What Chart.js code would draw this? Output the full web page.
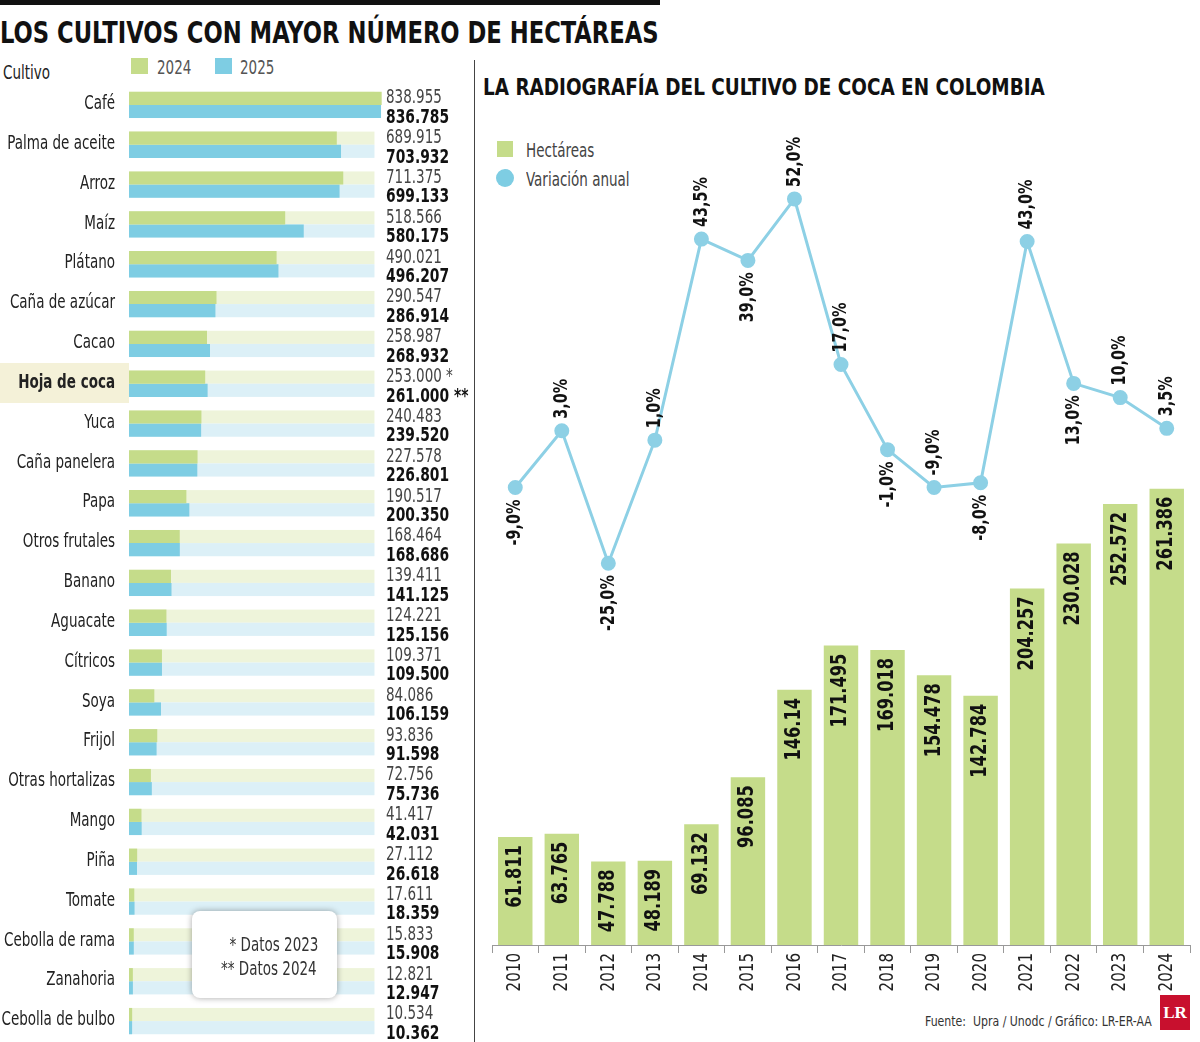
<!DOCTYPE html>
<html><head><meta charset="utf-8">
<script src="https://cdn.jsdelivr.net/npm/chart.js@4/dist/chart.umd.min.js"></script>
<style>
body{margin:0;width:1200px;height:1042px;background:#fff;position:relative;overflow:hidden;font-family:'DejaVu Sans Condensed','DejaVu Sans',sans-serif;color:#222}
.abs{position:absolute;white-space:nowrap}
.n{transform-origin:0 0;transform:scaleX(0.75)}
</style></head><body>
<div class="abs" style="left:0;top:0;width:660px;height:5px;background:#111"></div>
<div class="abs" style="left:0;top:15px;font-size:30px;font-weight:bold;color:#111;transform-origin:0 0;transform:scaleX(0.84)">LOS CULTIVOS CON MAYOR NÚMERO DE HECTÁREAS</div>
<div class="abs n" style="left:3px;top:60px;font-size:20px">Cultivo</div>
<div class="abs" style="left:131px;top:58px;width:17px;height:16px;background:#c5dc8a"></div>
<div class="abs n" style="left:157px;top:55px;font-size:20px;color:#555">2024</div>
<div class="abs" style="left:215px;top:58px;width:17px;height:16px;background:#7ecde3"></div>
<div class="abs n" style="left:240px;top:55px;font-size:20px;color:#555">2025</div>
<div class="abs" style="left:0;top:363px;width:129px;height:40px;background:#f4f1d8"></div>
<div class="abs" style="left:474px;top:60px;width:1px;height:982px;background:#444"></div>
<div class="abs" style="left:483px;top:74px;font-size:23px;font-weight:bold;color:#111;transform-origin:0 0;transform:scaleX(0.89)">LA RADIOGRAFÍA DEL CULTIVO DE COCA EN COLOMBIA</div>
<div class="abs" style="left:497px;top:141px;width:16px;height:16px;background:#c5dc8a"></div>
<div class="abs n" style="left:526px;top:138px;font-size:20px;color:#444">Hectáreas</div>
<div class="abs" style="left:496px;top:169px;width:18px;height:18px;border-radius:50%;background:#7ecde3"></div>
<div class="abs n" style="left:526px;top:167px;font-size:20px;color:#444">Variación anual</div>
<div class="abs" style="left:925px;top:1013px;font-size:14px;color:#333;transform-origin:0 0;transform:scaleX(0.87)">Fuente: &nbsp;Upra / Unodc / Gráfico: LR-ER-AA</div>
<div class="abs" style="left:1160px;top:995px;width:30px;height:35px;background:#c8102e;color:#fff;font-weight:bold;font-size:17px;text-align:center;line-height:35px;font-family:'Liberation Serif',serif">LR</div>
<canvas id="c1" class="abs" style="left:0;top:0"></canvas>
<canvas id="c2" class="abs" style="left:475px;top:0"></canvas>
<div class="abs" style="left:192px;top:911px;width:145px;height:87px;background:#fff;border-radius:8px;box-shadow:0 0 6px rgba(0,0,0,0.35)"></div>
<div class="abs n" style="left:221px;top:932px;font-size:20px;color:#333;line-height:24px">&nbsp;&nbsp;* Datos 2023<br>** Datos 2024</div>
<script>
const FONT="'DejaVu Sans Condensed','DejaVu Sans',sans-serif";
const crops=["Café","Palma de aceite","Arroz","Maíz","Plátano","Caña de azúcar","Cacao","Hoja de coca","Yuca","Caña panelera","Papa","Otros frutales","Banano","Aguacate","Cítricos","Soya","Frijol","Otras hortalizas","Mango","Piña","Tomate","Cebolla de rama","Zanahoria","Cebolla de bulbo"];
const v2024=[838955,689915,711375,518566,490021,290547,258987,253000,240483,227578,190517,168464,139411,124221,109371,84086,93836,72756,41417,27112,17611,15833,12821,10534];
const v2025=[836785,703932,699133,580175,496207,286914,268932,261000,239520,226801,200350,168686,141125,125156,109500,106159,91598,75736,42031,26618,18359,15908,12947,10362];
const years=["2010","2011","2012","2013","2014","2015","2016","2017","2018","2019","2020","2021","2022","2023","2024"];
const hectares=[61811,63765,47788,48189,69132,96085,146140,171495,169018,154478,142784,204257,230028,252572,261386];
const hectLabels=["61.811","63.765","47.788","48.189","69.132","96.085","146.14","171.495","169.018","154.478","142.784","204.257","230.028","252.572","261.386"];
const variation=[-9,3,-25,1,43.5,39,52,17,-1,-9,-8,43,13,10,3.5];
const varLabelBelow=[true,false,true,false,false,true,false,false,true,false,true,false,true,false,false];
const TRACK=815000;
const fmt=n=>n.toString().replace(/\B(?=(\d{3})+(?!\d))/g,".");
const fmtPct=n=>n.toFixed(1).replace(".",",")+"%";

function setup(c,w,h){c.width=w;c.height=h;c.style.width=w+'px';c.style.height=h+'px';}
setup(document.getElementById('c1'),474,1042);
setup(document.getElementById('c2'),725,1042);
function txt(ctx,s,x,y,font,color,align,sx,rot){ctx.save();ctx.translate(x,y);if(rot)ctx.rotate(rot);ctx.scale(sx,1);ctx.font=font;ctx.fillStyle=color;ctx.textAlign=align;ctx.textBaseline='middle';ctx.fillText(s,0,0);ctx.restore();}

const leftPlugin={id:'lp',
 beforeDatasetsDraw(ch){const ctx=ch.ctx,xs=ch.scales.x;const cols=['#eef4da','#dcf0f7'];
  ch.data.datasets.forEach((d,i)=>{ch.getDatasetMeta(i).data.forEach(el=>{ctx.fillStyle=cols[i];ctx.fillRect(el.base,el.y-el.height/2,xs.getPixelForValue(TRACK)-el.base,el.height);});});},
 afterDatasetsDraw(ch){const ctx=ch.ctx,xs=ch.scales.x,ys=ch.scales.y;const x=xs.getPixelForValue(840000)+4;
  crops.forEach((c,i)=>txt(ctx,c,115,ys.getPixelForValue(i)-1,(i===7?'bold ':'')+'20px '+FONT,'#222','right',0.75));
  const m0=ch.getDatasetMeta(0).data,m1=ch.getDatasetMeta(1).data;
  m0.forEach((el,i)=>txt(ctx,fmt(v2024[i])+(i===7?' *':''),x,el.y,'19px '+FONT,'#444','left',0.79));
  m1.forEach((el,i)=>txt(ctx,fmt(v2025[i])+(i===7?' **':''),x,el.y+6,'bold 20px '+FONT,'#111','left',0.77));}};

new Chart(document.getElementById('c1'),{type:'bar',
 data:{labels:crops,datasets:[{label:'2024',data:v2024,backgroundColor:'#c5dc8a'},{label:'2025',data:v2025,backgroundColor:'#7ecde3'}]},
 options:{indexAxis:'y',responsive:false,animation:false,events:[],
  layout:{padding:{top:85,bottom:1,right:92,left:0}},
  datasets:{bar:{categoryPercentage:0.66,barPercentage:1}},
  plugins:{legend:{display:false},tooltip:{enabled:false}},
  scales:{x:{display:false,min:0,max:840000},
   y:{afterFit(s){s.width=129;},grid:{display:false},border:{display:false},ticks:{display:false}}}},
 plugins:[leftPlugin]});

const rightPlugin={id:'rp',afterDatasetsDraw(ch){const ctx=ch.ctx;const R=-Math.PI/2;
  ch.getDatasetMeta(0).data.forEach((el,i)=>{
   txt(ctx,hectLabels[i],el.x,el.y+8,'bold 21px '+FONT,'#111','right',0.86,R);
   txt(ctx,years[i],el.x,ch.chartArea.bottom+8,'20px '+FONT,'#222','right',0.84,R);});
  ch.getDatasetMeta(1).data.forEach((el,i)=>{const b=varLabelBelow[i];
   txt(ctx,fmtPct(variation[i]),el.x,b?el.y+12:el.y-12,'bold 20px '+FONT,'#111',b?'right':'left',0.8,R);});}};

new Chart(document.getElementById('c2'),{type:'bar',
 data:{labels:years,datasets:[
  {type:'bar',data:hectares,backgroundColor:'#c5dc8a',yAxisID:'y',categoryPercentage:0.74,barPercentage:1,order:2},
  {type:'line',data:variation,yAxisID:'y1',borderColor:'#8dd0e5',backgroundColor:'#8dd0e5',borderWidth:3,pointRadius:6,pointBackgroundColor:'#8dd0e5',order:1}]},
 options:{responsive:false,animation:false,events:[],
  layout:{padding:{top:100,bottom:0,left:17,right:10}},
  plugins:{legend:{display:false},tooltip:{enabled:false}},
  scales:{x:{afterFit(s){s.height=97;},offset:true,grid:{display:true,drawOnChartArea:false,offset:true,tickLength:8,color:'#999'},border:{color:'#999'},ticks:{display:false}},
   y:{display:false,min:0,max:484000},
   y1:{display:false,min:-105.7,max:72.9}}},
 plugins:[rightPlugin]});
</script></body></html>
